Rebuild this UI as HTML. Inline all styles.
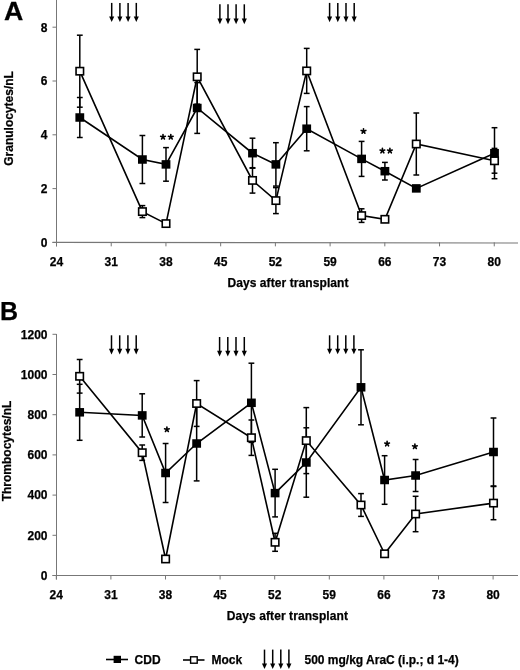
<!DOCTYPE html>
<html><head><meta charset="utf-8"><style>
html,body{margin:0;padding:0;background:#fff;width:520px;height:670px;overflow:hidden;}
svg{display:block;filter:grayscale(1);}
text{font-family:"Liberation Sans",sans-serif;font-weight:bold;fill:#000;stroke:#000;stroke-width:0.25px;}
</style></head><body>
<svg width="520" height="670" viewBox="0 0 520 670">
<text transform="translate(4.1,20) scale(1.07,1)" font-size="25">A</text>
<text transform="translate(12.6,118.4) rotate(-90)" font-size="12" text-anchor="middle">Granulocytes/nL</text>
<line x1="56.5" y1="0" x2="56.5" y2="246.35" stroke="#777" stroke-width="1"/>
<line x1="52.5" y1="242.35" x2="518" y2="242.95" stroke="#777" stroke-width="1.1"/>
<line x1="52.5" y1="242.5" x2="56.5" y2="242.5" stroke="#777" stroke-width="1"/>
<line x1="52.5" y1="188.6" x2="56.5" y2="188.6" stroke="#777" stroke-width="1"/>
<line x1="52.5" y1="134.8" x2="56.5" y2="134.8" stroke="#777" stroke-width="1"/>
<line x1="52.5" y1="81.0" x2="56.5" y2="81.0" stroke="#777" stroke-width="1"/>
<line x1="52.5" y1="27.2" x2="56.5" y2="27.2" stroke="#777" stroke-width="1"/>
<line x1="56.50" y1="242.35" x2="56.50" y2="246.35" stroke="#777" stroke-width="1"/>
<text x="56.50" y="265.5" font-size="12" text-anchor="middle">24</text>
<line x1="111.22" y1="242.35" x2="111.22" y2="246.35" stroke="#777" stroke-width="1"/>
<text x="111.22" y="265.5" font-size="12" text-anchor="middle">31</text>
<line x1="165.94" y1="242.35" x2="165.94" y2="246.35" stroke="#777" stroke-width="1"/>
<text x="165.94" y="265.5" font-size="12" text-anchor="middle">38</text>
<line x1="220.66" y1="242.35" x2="220.66" y2="246.35" stroke="#777" stroke-width="1"/>
<text x="220.66" y="265.5" font-size="12" text-anchor="middle">45</text>
<line x1="275.38" y1="242.35" x2="275.38" y2="246.35" stroke="#777" stroke-width="1"/>
<text x="275.38" y="265.5" font-size="12" text-anchor="middle">52</text>
<line x1="330.10" y1="242.35" x2="330.10" y2="246.35" stroke="#777" stroke-width="1"/>
<text x="330.10" y="265.5" font-size="12" text-anchor="middle">59</text>
<line x1="384.82" y1="242.35" x2="384.82" y2="246.35" stroke="#777" stroke-width="1"/>
<text x="384.82" y="265.5" font-size="12" text-anchor="middle">66</text>
<line x1="439.54" y1="242.35" x2="439.54" y2="246.35" stroke="#777" stroke-width="1"/>
<text x="439.54" y="265.5" font-size="12" text-anchor="middle">73</text>
<line x1="494.26" y1="242.35" x2="494.26" y2="246.35" stroke="#777" stroke-width="1"/>
<text x="494.26" y="265.5" font-size="12" text-anchor="middle">80</text>
<text x="47.5" y="246.80" font-size="12" text-anchor="end">0</text>
<text x="47.5" y="192.90" font-size="12" text-anchor="end">2</text>
<text x="47.5" y="139.10" font-size="12" text-anchor="end">4</text>
<text x="47.5" y="85.30" font-size="12" text-anchor="end">6</text>
<text x="47.5" y="31.50" font-size="12" text-anchor="end">8</text>
<text x="288.0" y="286.5" font-size="12" text-anchor="middle" letter-spacing="0.085">Days after transplant</text>
<line x1="111.7" y1="2.9" x2="111.7" y2="18.1" stroke="#000" stroke-width="1.5"/>
<path d="M109.15,16.5 L114.25,16.5 L111.7,22.1 Z" fill="#000"/>
<line x1="119.9" y1="2.9" x2="119.9" y2="18.1" stroke="#000" stroke-width="1.5"/>
<path d="M117.35000000000001,16.5 L122.45,16.5 L119.9,22.1 Z" fill="#000"/>
<line x1="128.1" y1="2.9" x2="128.1" y2="18.1" stroke="#000" stroke-width="1.5"/>
<path d="M125.55,16.5 L130.65,16.5 L128.1,22.1 Z" fill="#000"/>
<line x1="136.3" y1="2.9" x2="136.3" y2="18.1" stroke="#000" stroke-width="1.5"/>
<path d="M133.75,16.5 L138.85000000000002,16.5 L136.3,22.1 Z" fill="#000"/>
<line x1="219.9" y1="4.3" x2="219.9" y2="20.200000000000003" stroke="#000" stroke-width="1.5"/>
<path d="M217.35,18.6 L222.45000000000002,18.6 L219.9,24.200000000000003 Z" fill="#000"/>
<line x1="228.0" y1="4.3" x2="228.0" y2="20.200000000000003" stroke="#000" stroke-width="1.5"/>
<path d="M225.45,18.6 L230.55,18.6 L228.0,24.200000000000003 Z" fill="#000"/>
<line x1="236.1" y1="4.3" x2="236.1" y2="20.200000000000003" stroke="#000" stroke-width="1.5"/>
<path d="M233.54999999999998,18.6 L238.65,18.6 L236.1,24.200000000000003 Z" fill="#000"/>
<line x1="244.3" y1="4.3" x2="244.3" y2="20.200000000000003" stroke="#000" stroke-width="1.5"/>
<path d="M241.75,18.6 L246.85000000000002,18.6 L244.3,24.200000000000003 Z" fill="#000"/>
<line x1="329.6" y1="2.9" x2="329.6" y2="18.200000000000003" stroke="#000" stroke-width="1.5"/>
<path d="M327.05,16.6 L332.15000000000003,16.6 L329.6,22.200000000000003 Z" fill="#000"/>
<line x1="337.8" y1="2.9" x2="337.8" y2="18.200000000000003" stroke="#000" stroke-width="1.5"/>
<path d="M335.25,16.6 L340.35,16.6 L337.8,22.200000000000003 Z" fill="#000"/>
<line x1="346.0" y1="2.9" x2="346.0" y2="18.200000000000003" stroke="#000" stroke-width="1.5"/>
<path d="M343.45,16.6 L348.55,16.6 L346.0,22.200000000000003 Z" fill="#000"/>
<line x1="354.2" y1="2.9" x2="354.2" y2="18.200000000000003" stroke="#000" stroke-width="1.5"/>
<path d="M351.65,16.6 L356.75,16.6 L354.2,22.200000000000003 Z" fill="#000"/>
<line x1="79.8" y1="97.50" x2="79.8" y2="137.50" stroke="#000" stroke-width="1.5"/>
<line x1="76.89999999999999" y1="97.50" x2="82.7" y2="97.50" stroke="#000" stroke-width="1.5"/>
<line x1="76.89999999999999" y1="137.50" x2="82.7" y2="137.50" stroke="#000" stroke-width="1.5"/>
<line x1="142.4" y1="135.50" x2="142.4" y2="183.50" stroke="#000" stroke-width="1.5"/>
<line x1="139.5" y1="135.50" x2="145.3" y2="135.50" stroke="#000" stroke-width="1.5"/>
<line x1="139.5" y1="183.50" x2="145.3" y2="183.50" stroke="#000" stroke-width="1.5"/>
<line x1="166.0" y1="147.60" x2="166.0" y2="181.20" stroke="#000" stroke-width="1.5"/>
<line x1="163.1" y1="147.60" x2="168.9" y2="147.60" stroke="#000" stroke-width="1.5"/>
<line x1="163.1" y1="181.20" x2="168.9" y2="181.20" stroke="#000" stroke-width="1.5"/>
<line x1="197.2" y1="82.60" x2="197.2" y2="133.40" stroke="#000" stroke-width="1.5"/>
<line x1="194.29999999999998" y1="82.60" x2="200.1" y2="82.60" stroke="#000" stroke-width="1.5"/>
<line x1="194.29999999999998" y1="133.40" x2="200.1" y2="133.40" stroke="#000" stroke-width="1.5"/>
<line x1="252.5" y1="138.20" x2="252.5" y2="168.20" stroke="#000" stroke-width="1.5"/>
<line x1="249.6" y1="138.20" x2="255.4" y2="138.20" stroke="#000" stroke-width="1.5"/>
<line x1="249.6" y1="168.20" x2="255.4" y2="168.20" stroke="#000" stroke-width="1.5"/>
<line x1="275.9" y1="142.70" x2="275.9" y2="186.10" stroke="#000" stroke-width="1.5"/>
<line x1="273.0" y1="142.70" x2="278.79999999999995" y2="142.70" stroke="#000" stroke-width="1.5"/>
<line x1="273.0" y1="186.10" x2="278.79999999999995" y2="186.10" stroke="#000" stroke-width="1.5"/>
<line x1="306.7" y1="106.60" x2="306.7" y2="150.80" stroke="#000" stroke-width="1.5"/>
<line x1="303.8" y1="106.60" x2="309.59999999999997" y2="106.60" stroke="#000" stroke-width="1.5"/>
<line x1="303.8" y1="150.80" x2="309.59999999999997" y2="150.80" stroke="#000" stroke-width="1.5"/>
<line x1="361.6" y1="141.40" x2="361.6" y2="176.40" stroke="#000" stroke-width="1.5"/>
<line x1="358.70000000000005" y1="141.40" x2="364.5" y2="141.40" stroke="#000" stroke-width="1.5"/>
<line x1="358.70000000000005" y1="176.40" x2="364.5" y2="176.40" stroke="#000" stroke-width="1.5"/>
<line x1="384.9" y1="162.40" x2="384.9" y2="180.00" stroke="#000" stroke-width="1.5"/>
<line x1="382.0" y1="162.40" x2="387.79999999999995" y2="162.40" stroke="#000" stroke-width="1.5"/>
<line x1="382.0" y1="180.00" x2="387.79999999999995" y2="180.00" stroke="#000" stroke-width="1.5"/>
<line x1="494.5" y1="127.70" x2="494.5" y2="178.70" stroke="#000" stroke-width="1.5"/>
<line x1="491.6" y1="127.70" x2="497.4" y2="127.70" stroke="#000" stroke-width="1.5"/>
<line x1="491.6" y1="178.70" x2="497.4" y2="178.70" stroke="#000" stroke-width="1.5"/>
<polyline points="79.80,117.50 142.40,159.50 166.00,164.40 197.20,108.00 252.50,153.20 275.90,164.40 306.70,128.70 361.60,158.90 384.90,171.20 416.30,188.40 494.50,153.20" fill="none" stroke="#000" stroke-width="1.6" stroke-linejoin="miter"/>
<rect x="75.40" y="113.25" width="8.8" height="8.5" fill="#000"/>
<rect x="138.00" y="155.25" width="8.8" height="8.5" fill="#000"/>
<rect x="161.60" y="160.15" width="8.8" height="8.5" fill="#000"/>
<rect x="192.80" y="103.75" width="8.8" height="8.5" fill="#000"/>
<rect x="248.10" y="148.95" width="8.8" height="8.5" fill="#000"/>
<rect x="271.50" y="160.15" width="8.8" height="8.5" fill="#000"/>
<rect x="302.30" y="124.45" width="8.8" height="8.5" fill="#000"/>
<rect x="357.20" y="154.65" width="8.8" height="8.5" fill="#000"/>
<rect x="380.50" y="166.95" width="8.8" height="8.5" fill="#000"/>
<rect x="411.90" y="184.15" width="8.8" height="8.5" fill="#000"/>
<rect x="490.10" y="148.95" width="8.8" height="8.5" fill="#000"/>
<line x1="79.8" y1="35.20" x2="79.8" y2="107.20" stroke="#000" stroke-width="1.5"/>
<line x1="76.89999999999999" y1="35.20" x2="82.7" y2="35.20" stroke="#000" stroke-width="1.5"/>
<line x1="76.89999999999999" y1="107.20" x2="82.7" y2="107.20" stroke="#000" stroke-width="1.5"/>
<line x1="142.4" y1="205.60" x2="142.4" y2="217.60" stroke="#000" stroke-width="1.5"/>
<line x1="139.5" y1="205.60" x2="145.3" y2="205.60" stroke="#000" stroke-width="1.5"/>
<line x1="139.5" y1="217.60" x2="145.3" y2="217.60" stroke="#000" stroke-width="1.5"/>
<line x1="197.2" y1="49.40" x2="197.2" y2="104.20" stroke="#000" stroke-width="1.5"/>
<line x1="194.29999999999998" y1="49.40" x2="200.1" y2="49.40" stroke="#000" stroke-width="1.5"/>
<line x1="194.29999999999998" y1="104.20" x2="200.1" y2="104.20" stroke="#000" stroke-width="1.5"/>
<line x1="252.5" y1="167.70" x2="252.5" y2="193.10" stroke="#000" stroke-width="1.5"/>
<line x1="249.6" y1="167.70" x2="255.4" y2="167.70" stroke="#000" stroke-width="1.5"/>
<line x1="249.6" y1="193.10" x2="255.4" y2="193.10" stroke="#000" stroke-width="1.5"/>
<line x1="275.9" y1="187.60" x2="275.9" y2="213.60" stroke="#000" stroke-width="1.5"/>
<line x1="273.0" y1="187.60" x2="278.79999999999995" y2="187.60" stroke="#000" stroke-width="1.5"/>
<line x1="273.0" y1="213.60" x2="278.79999999999995" y2="213.60" stroke="#000" stroke-width="1.5"/>
<line x1="306.7" y1="48.40" x2="306.7" y2="93.40" stroke="#000" stroke-width="1.5"/>
<line x1="303.8" y1="48.40" x2="309.59999999999997" y2="48.40" stroke="#000" stroke-width="1.5"/>
<line x1="303.8" y1="93.40" x2="309.59999999999997" y2="93.40" stroke="#000" stroke-width="1.5"/>
<line x1="361.6" y1="208.80" x2="361.6" y2="222.40" stroke="#000" stroke-width="1.5"/>
<line x1="358.70000000000005" y1="208.80" x2="364.5" y2="208.80" stroke="#000" stroke-width="1.5"/>
<line x1="358.70000000000005" y1="222.40" x2="364.5" y2="222.40" stroke="#000" stroke-width="1.5"/>
<line x1="416.3" y1="113.00" x2="416.3" y2="175.00" stroke="#000" stroke-width="1.5"/>
<line x1="413.40000000000003" y1="113.00" x2="419.2" y2="113.00" stroke="#000" stroke-width="1.5"/>
<line x1="413.40000000000003" y1="175.00" x2="419.2" y2="175.00" stroke="#000" stroke-width="1.5"/>
<line x1="494.5" y1="148.40" x2="494.5" y2="173.20" stroke="#000" stroke-width="1.5"/>
<line x1="491.6" y1="148.40" x2="497.4" y2="148.40" stroke="#000" stroke-width="1.5"/>
<line x1="491.6" y1="173.20" x2="497.4" y2="173.20" stroke="#000" stroke-width="1.5"/>
<polyline points="79.80,71.20 142.40,211.60 166.00,223.60 197.20,76.80 252.50,180.40 275.90,200.60 306.70,70.90 361.60,215.60 384.90,219.30 416.30,144.00 494.50,160.80" fill="none" stroke="#000" stroke-width="1.6" stroke-linejoin="miter"/>
<rect x="76.05" y="67.55" width="7.50" height="7.30" fill="#fff" stroke="#000" stroke-width="1.6"/>
<rect x="138.65" y="207.95" width="7.50" height="7.30" fill="#fff" stroke="#000" stroke-width="1.6"/>
<rect x="162.25" y="219.95" width="7.50" height="7.30" fill="#fff" stroke="#000" stroke-width="1.6"/>
<rect x="193.45" y="73.15" width="7.50" height="7.30" fill="#fff" stroke="#000" stroke-width="1.6"/>
<rect x="248.75" y="176.75" width="7.50" height="7.30" fill="#fff" stroke="#000" stroke-width="1.6"/>
<rect x="272.15" y="196.95" width="7.50" height="7.30" fill="#fff" stroke="#000" stroke-width="1.6"/>
<rect x="302.95" y="67.25" width="7.50" height="7.30" fill="#fff" stroke="#000" stroke-width="1.6"/>
<rect x="357.85" y="211.95" width="7.50" height="7.30" fill="#fff" stroke="#000" stroke-width="1.6"/>
<rect x="381.15" y="215.65" width="7.50" height="7.30" fill="#fff" stroke="#000" stroke-width="1.6"/>
<rect x="412.55" y="140.35" width="7.50" height="7.30" fill="#fff" stroke="#000" stroke-width="1.6"/>
<rect x="490.75" y="157.15" width="7.50" height="7.30" fill="#fff" stroke="#000" stroke-width="1.6"/>
<path d="M163.00,137.00L163.00,134.55M163.00,137.00L165.33,136.24M163.00,137.00L164.44,138.98M163.00,137.00L161.56,138.98M163.00,137.00L160.67,136.24" stroke="#000" stroke-width="1.6" stroke-linecap="round" fill="none"/>
<path d="M170.80,137.00L170.80,134.55M170.80,137.00L173.13,136.24M170.80,137.00L172.24,138.98M170.80,137.00L169.36,138.98M170.80,137.00L168.47,136.24" stroke="#000" stroke-width="1.6" stroke-linecap="round" fill="none"/>
<path d="M363.50,131.20L363.50,128.75M363.50,131.20L365.83,130.44M363.50,131.20L364.94,133.18M363.50,131.20L362.06,133.18M363.50,131.20L361.17,130.44" stroke="#000" stroke-width="1.6" stroke-linecap="round" fill="none"/>
<path d="M382.40,150.80L382.40,148.35M382.40,150.80L384.73,150.04M382.40,150.80L383.84,152.78M382.40,150.80L380.96,152.78M382.40,150.80L380.07,150.04" stroke="#000" stroke-width="1.6" stroke-linecap="round" fill="none"/>
<path d="M389.90,150.80L389.90,148.35M389.90,150.80L392.23,150.04M389.90,150.80L391.34,152.78M389.90,150.80L388.46,152.78M389.90,150.80L387.57,150.04" stroke="#000" stroke-width="1.6" stroke-linecap="round" fill="none"/>
<text x="0" y="319.5" font-size="25">B</text>
<text transform="translate(11.2,451) rotate(-90)" font-size="12" text-anchor="middle">Thrombocytes/nL</text>
<line x1="56.5" y1="334" x2="56.5" y2="579.5" stroke="#777" stroke-width="1"/>
<line x1="52.5" y1="575.5" x2="518" y2="575.5" stroke="#777" stroke-width="1"/>
<line x1="52.5" y1="575.5" x2="56.5" y2="575.5" stroke="#777" stroke-width="1"/>
<line x1="52.5" y1="535.3" x2="56.5" y2="535.3" stroke="#777" stroke-width="1"/>
<line x1="52.5" y1="495.1" x2="56.5" y2="495.1" stroke="#777" stroke-width="1"/>
<line x1="52.5" y1="454.9" x2="56.5" y2="454.9" stroke="#777" stroke-width="1"/>
<line x1="52.5" y1="414.7" x2="56.5" y2="414.7" stroke="#777" stroke-width="1"/>
<line x1="52.5" y1="374.5" x2="56.5" y2="374.5" stroke="#777" stroke-width="1"/>
<line x1="52.5" y1="334.3" x2="56.5" y2="334.3" stroke="#777" stroke-width="1"/>
<line x1="56.30" y1="575.5" x2="56.30" y2="579.5" stroke="#777" stroke-width="1"/>
<text x="56.30" y="598.5" font-size="12" text-anchor="middle">24</text>
<line x1="110.90" y1="575.5" x2="110.90" y2="579.5" stroke="#777" stroke-width="1"/>
<text x="110.90" y="598.5" font-size="12" text-anchor="middle">31</text>
<line x1="165.50" y1="575.5" x2="165.50" y2="579.5" stroke="#777" stroke-width="1"/>
<text x="165.50" y="598.5" font-size="12" text-anchor="middle">38</text>
<line x1="220.10" y1="575.5" x2="220.10" y2="579.5" stroke="#777" stroke-width="1"/>
<text x="220.10" y="598.5" font-size="12" text-anchor="middle">45</text>
<line x1="274.70" y1="575.5" x2="274.70" y2="579.5" stroke="#777" stroke-width="1"/>
<text x="274.70" y="598.5" font-size="12" text-anchor="middle">52</text>
<line x1="329.30" y1="575.5" x2="329.30" y2="579.5" stroke="#777" stroke-width="1"/>
<text x="329.30" y="598.5" font-size="12" text-anchor="middle">59</text>
<line x1="383.90" y1="575.5" x2="383.90" y2="579.5" stroke="#777" stroke-width="1"/>
<text x="383.90" y="598.5" font-size="12" text-anchor="middle">66</text>
<line x1="438.50" y1="575.5" x2="438.50" y2="579.5" stroke="#777" stroke-width="1"/>
<text x="438.50" y="598.5" font-size="12" text-anchor="middle">73</text>
<line x1="493.10" y1="575.5" x2="493.10" y2="579.5" stroke="#777" stroke-width="1"/>
<text x="493.10" y="598.5" font-size="12" text-anchor="middle">80</text>
<text x="47.5" y="579.80" font-size="12" text-anchor="end">0</text>
<text x="47.5" y="539.60" font-size="12" text-anchor="end">200</text>
<text x="47.5" y="499.40" font-size="12" text-anchor="end">400</text>
<text x="47.5" y="459.20" font-size="12" text-anchor="end">600</text>
<text x="47.5" y="419.00" font-size="12" text-anchor="end">800</text>
<text x="47.5" y="378.80" font-size="12" text-anchor="end">1000</text>
<text x="47.5" y="338.60" font-size="12" text-anchor="end">1200</text>
<text x="287.4" y="620.0" font-size="12" text-anchor="middle" letter-spacing="0.085">Days after transplant</text>
<line x1="111.5" y1="335.3" x2="111.5" y2="350.40000000000003" stroke="#000" stroke-width="1.5"/>
<path d="M108.95,348.8 L114.05,348.8 L111.5,354.40000000000003 Z" fill="#000"/>
<line x1="119.7" y1="335.3" x2="119.7" y2="350.40000000000003" stroke="#000" stroke-width="1.5"/>
<path d="M117.15,348.8 L122.25,348.8 L119.7,354.40000000000003 Z" fill="#000"/>
<line x1="127.9" y1="335.3" x2="127.9" y2="350.40000000000003" stroke="#000" stroke-width="1.5"/>
<path d="M125.35000000000001,348.8 L130.45000000000002,348.8 L127.9,354.40000000000003 Z" fill="#000"/>
<line x1="136.2" y1="335.3" x2="136.2" y2="350.40000000000003" stroke="#000" stroke-width="1.5"/>
<path d="M133.64999999999998,348.8 L138.75,348.8 L136.2,354.40000000000003 Z" fill="#000"/>
<line x1="219.6" y1="337.0" x2="219.6" y2="352.40000000000003" stroke="#000" stroke-width="1.5"/>
<path d="M217.04999999999998,350.8 L222.15,350.8 L219.6,356.40000000000003 Z" fill="#000"/>
<line x1="227.8" y1="337.0" x2="227.8" y2="352.40000000000003" stroke="#000" stroke-width="1.5"/>
<path d="M225.25,350.8 L230.35000000000002,350.8 L227.8,356.40000000000003 Z" fill="#000"/>
<line x1="236.0" y1="337.0" x2="236.0" y2="352.40000000000003" stroke="#000" stroke-width="1.5"/>
<path d="M233.45,350.8 L238.55,350.8 L236.0,356.40000000000003 Z" fill="#000"/>
<line x1="244.3" y1="337.0" x2="244.3" y2="352.40000000000003" stroke="#000" stroke-width="1.5"/>
<path d="M241.75,350.8 L246.85000000000002,350.8 L244.3,356.40000000000003 Z" fill="#000"/>
<line x1="329.6" y1="335.3" x2="329.6" y2="350.3" stroke="#000" stroke-width="1.5"/>
<path d="M327.05,348.7 L332.15000000000003,348.7 L329.6,354.3 Z" fill="#000"/>
<line x1="337.7" y1="335.3" x2="337.7" y2="350.3" stroke="#000" stroke-width="1.5"/>
<path d="M335.15,348.7 L340.25,348.7 L337.7,354.3 Z" fill="#000"/>
<line x1="345.8" y1="335.3" x2="345.8" y2="350.3" stroke="#000" stroke-width="1.5"/>
<path d="M343.25,348.7 L348.35,348.7 L345.8,354.3 Z" fill="#000"/>
<line x1="353.9" y1="335.3" x2="353.9" y2="350.3" stroke="#000" stroke-width="1.5"/>
<path d="M351.34999999999997,348.7 L356.45,348.7 L353.9,354.3 Z" fill="#000"/>
<line x1="79.65" y1="384.30" x2="79.65" y2="440.30" stroke="#000" stroke-width="1.5"/>
<line x1="76.75" y1="384.30" x2="82.55000000000001" y2="384.30" stroke="#000" stroke-width="1.5"/>
<line x1="76.75" y1="440.30" x2="82.55000000000001" y2="440.30" stroke="#000" stroke-width="1.5"/>
<line x1="142.2" y1="393.80" x2="142.2" y2="437.00" stroke="#000" stroke-width="1.5"/>
<line x1="139.29999999999998" y1="393.80" x2="145.1" y2="393.80" stroke="#000" stroke-width="1.5"/>
<line x1="139.29999999999998" y1="437.00" x2="145.1" y2="437.00" stroke="#000" stroke-width="1.5"/>
<line x1="165.6" y1="443.50" x2="165.6" y2="502.50" stroke="#000" stroke-width="1.5"/>
<line x1="162.7" y1="443.50" x2="168.5" y2="443.50" stroke="#000" stroke-width="1.5"/>
<line x1="162.7" y1="502.50" x2="168.5" y2="502.50" stroke="#000" stroke-width="1.5"/>
<line x1="196.65" y1="406.10" x2="196.65" y2="480.90" stroke="#000" stroke-width="1.5"/>
<line x1="193.75" y1="406.10" x2="199.55" y2="406.10" stroke="#000" stroke-width="1.5"/>
<line x1="193.75" y1="480.90" x2="199.55" y2="480.90" stroke="#000" stroke-width="1.5"/>
<line x1="251.4" y1="363.20" x2="251.4" y2="442.40" stroke="#000" stroke-width="1.5"/>
<line x1="248.5" y1="363.20" x2="254.3" y2="363.20" stroke="#000" stroke-width="1.5"/>
<line x1="248.5" y1="442.40" x2="254.3" y2="442.40" stroke="#000" stroke-width="1.5"/>
<line x1="275.1" y1="469.30" x2="275.1" y2="516.90" stroke="#000" stroke-width="1.5"/>
<line x1="272.20000000000005" y1="469.30" x2="278.0" y2="469.30" stroke="#000" stroke-width="1.5"/>
<line x1="272.20000000000005" y1="516.90" x2="278.0" y2="516.90" stroke="#000" stroke-width="1.5"/>
<line x1="306.3" y1="427.80" x2="306.3" y2="497.20" stroke="#000" stroke-width="1.5"/>
<line x1="303.40000000000003" y1="427.80" x2="309.2" y2="427.80" stroke="#000" stroke-width="1.5"/>
<line x1="303.40000000000003" y1="497.20" x2="309.2" y2="497.20" stroke="#000" stroke-width="1.5"/>
<line x1="361.0" y1="349.80" x2="361.0" y2="424.80" stroke="#000" stroke-width="1.5"/>
<line x1="358.1" y1="349.80" x2="363.9" y2="349.80" stroke="#000" stroke-width="1.5"/>
<line x1="358.1" y1="424.80" x2="363.9" y2="424.80" stroke="#000" stroke-width="1.5"/>
<line x1="384.6" y1="455.70" x2="384.6" y2="504.30" stroke="#000" stroke-width="1.5"/>
<line x1="381.70000000000005" y1="455.70" x2="387.5" y2="455.70" stroke="#000" stroke-width="1.5"/>
<line x1="381.70000000000005" y1="504.30" x2="387.5" y2="504.30" stroke="#000" stroke-width="1.5"/>
<line x1="415.6" y1="459.50" x2="415.6" y2="491.50" stroke="#000" stroke-width="1.5"/>
<line x1="412.70000000000005" y1="459.50" x2="418.5" y2="459.50" stroke="#000" stroke-width="1.5"/>
<line x1="412.70000000000005" y1="491.50" x2="418.5" y2="491.50" stroke="#000" stroke-width="1.5"/>
<line x1="493.5" y1="418.00" x2="493.5" y2="486.00" stroke="#000" stroke-width="1.5"/>
<line x1="490.6" y1="418.00" x2="496.4" y2="418.00" stroke="#000" stroke-width="1.5"/>
<line x1="490.6" y1="486.00" x2="496.4" y2="486.00" stroke="#000" stroke-width="1.5"/>
<polyline points="79.65,412.30 142.20,415.40 165.60,473.00 196.65,443.50 251.40,402.80 275.10,493.10 306.30,462.50 361.00,387.30 384.60,480.00 415.60,475.50 493.50,452.00" fill="none" stroke="#000" stroke-width="1.6" stroke-linejoin="miter"/>
<rect x="75.25" y="408.05" width="8.8" height="8.5" fill="#000"/>
<rect x="137.80" y="411.15" width="8.8" height="8.5" fill="#000"/>
<rect x="161.20" y="468.75" width="8.8" height="8.5" fill="#000"/>
<rect x="192.25" y="439.25" width="8.8" height="8.5" fill="#000"/>
<rect x="247.00" y="398.55" width="8.8" height="8.5" fill="#000"/>
<rect x="270.70" y="488.85" width="8.8" height="8.5" fill="#000"/>
<rect x="301.90" y="458.25" width="8.8" height="8.5" fill="#000"/>
<rect x="356.60" y="383.05" width="8.8" height="8.5" fill="#000"/>
<rect x="380.20" y="475.75" width="8.8" height="8.5" fill="#000"/>
<rect x="411.20" y="471.25" width="8.8" height="8.5" fill="#000"/>
<rect x="489.10" y="447.75" width="8.8" height="8.5" fill="#000"/>
<line x1="79.65" y1="359.50" x2="79.65" y2="393.10" stroke="#000" stroke-width="1.5"/>
<line x1="76.75" y1="359.50" x2="82.55000000000001" y2="359.50" stroke="#000" stroke-width="1.5"/>
<line x1="76.75" y1="393.10" x2="82.55000000000001" y2="393.10" stroke="#000" stroke-width="1.5"/>
<line x1="142.2" y1="445.00" x2="142.2" y2="460.40" stroke="#000" stroke-width="1.5"/>
<line x1="139.29999999999998" y1="445.00" x2="145.1" y2="445.00" stroke="#000" stroke-width="1.5"/>
<line x1="139.29999999999998" y1="460.40" x2="145.1" y2="460.40" stroke="#000" stroke-width="1.5"/>
<line x1="196.65" y1="380.60" x2="196.65" y2="426.40" stroke="#000" stroke-width="1.5"/>
<line x1="193.75" y1="380.60" x2="199.55" y2="380.60" stroke="#000" stroke-width="1.5"/>
<line x1="193.75" y1="426.40" x2="199.55" y2="426.40" stroke="#000" stroke-width="1.5"/>
<line x1="251.4" y1="420.00" x2="251.4" y2="455.40" stroke="#000" stroke-width="1.5"/>
<line x1="248.5" y1="420.00" x2="254.3" y2="420.00" stroke="#000" stroke-width="1.5"/>
<line x1="248.5" y1="455.40" x2="254.3" y2="455.40" stroke="#000" stroke-width="1.5"/>
<line x1="275.1" y1="533.30" x2="275.1" y2="551.30" stroke="#000" stroke-width="1.5"/>
<line x1="272.20000000000005" y1="533.30" x2="278.0" y2="533.30" stroke="#000" stroke-width="1.5"/>
<line x1="272.20000000000005" y1="551.30" x2="278.0" y2="551.30" stroke="#000" stroke-width="1.5"/>
<line x1="306.3" y1="407.60" x2="306.3" y2="473.60" stroke="#000" stroke-width="1.5"/>
<line x1="303.40000000000003" y1="407.60" x2="309.2" y2="407.60" stroke="#000" stroke-width="1.5"/>
<line x1="303.40000000000003" y1="473.60" x2="309.2" y2="473.60" stroke="#000" stroke-width="1.5"/>
<line x1="361.0" y1="493.60" x2="361.0" y2="516.40" stroke="#000" stroke-width="1.5"/>
<line x1="358.1" y1="493.60" x2="363.9" y2="493.60" stroke="#000" stroke-width="1.5"/>
<line x1="358.1" y1="516.40" x2="363.9" y2="516.40" stroke="#000" stroke-width="1.5"/>
<line x1="415.6" y1="496.30" x2="415.6" y2="531.70" stroke="#000" stroke-width="1.5"/>
<line x1="412.70000000000005" y1="496.30" x2="418.5" y2="496.30" stroke="#000" stroke-width="1.5"/>
<line x1="412.70000000000005" y1="531.70" x2="418.5" y2="531.70" stroke="#000" stroke-width="1.5"/>
<line x1="493.5" y1="486.50" x2="493.5" y2="519.70" stroke="#000" stroke-width="1.5"/>
<line x1="490.6" y1="486.50" x2="496.4" y2="486.50" stroke="#000" stroke-width="1.5"/>
<line x1="490.6" y1="519.70" x2="496.4" y2="519.70" stroke="#000" stroke-width="1.5"/>
<polyline points="79.65,376.30 142.20,452.70 165.60,559.00 196.65,403.50 251.40,437.70 275.10,542.30 306.30,440.60 361.00,505.00 384.60,553.80 415.60,514.00 493.50,503.10" fill="none" stroke="#000" stroke-width="1.6" stroke-linejoin="miter"/>
<rect x="75.90" y="372.65" width="7.50" height="7.30" fill="#fff" stroke="#000" stroke-width="1.6"/>
<rect x="138.45" y="449.05" width="7.50" height="7.30" fill="#fff" stroke="#000" stroke-width="1.6"/>
<rect x="161.85" y="555.35" width="7.50" height="7.30" fill="#fff" stroke="#000" stroke-width="1.6"/>
<rect x="192.90" y="399.85" width="7.50" height="7.30" fill="#fff" stroke="#000" stroke-width="1.6"/>
<rect x="247.65" y="434.05" width="7.50" height="7.30" fill="#fff" stroke="#000" stroke-width="1.6"/>
<rect x="271.35" y="538.65" width="7.50" height="7.30" fill="#fff" stroke="#000" stroke-width="1.6"/>
<rect x="302.55" y="436.95" width="7.50" height="7.30" fill="#fff" stroke="#000" stroke-width="1.6"/>
<rect x="357.25" y="501.35" width="7.50" height="7.30" fill="#fff" stroke="#000" stroke-width="1.6"/>
<rect x="380.85" y="550.15" width="7.50" height="7.30" fill="#fff" stroke="#000" stroke-width="1.6"/>
<rect x="411.85" y="510.35" width="7.50" height="7.30" fill="#fff" stroke="#000" stroke-width="1.6"/>
<rect x="489.75" y="499.45" width="7.50" height="7.30" fill="#fff" stroke="#000" stroke-width="1.6"/>
<path d="M166.90,429.50L166.90,427.05M166.90,429.50L169.23,428.74M166.90,429.50L168.34,431.48M166.90,429.50L165.46,431.48M166.90,429.50L164.57,428.74" stroke="#000" stroke-width="1.6" stroke-linecap="round" fill="none"/>
<path d="M387.10,443.80L387.10,441.35M387.10,443.80L389.43,443.04M387.10,443.80L388.54,445.78M387.10,443.80L385.66,445.78M387.10,443.80L384.77,443.04" stroke="#000" stroke-width="1.6" stroke-linecap="round" fill="none"/>
<path d="M414.90,446.50L414.90,444.05M414.90,446.50L417.23,445.74M414.90,446.50L416.34,448.48M414.90,446.50L413.46,448.48M414.90,446.50L412.57,445.74" stroke="#000" stroke-width="1.6" stroke-linecap="round" fill="none"/>
<line x1="106" y1="659.5" x2="128" y2="659.5" stroke="#000" stroke-width="1.6"/>
<rect x="113.6" y="655.8" width="7.4" height="7.2" fill="#000"/>
<text x="134.6" y="664" font-size="12">CDD</text>
<line x1="183" y1="660" x2="204.5" y2="660" stroke="#000" stroke-width="1.6"/>
<rect x="190.6" y="656.8" width="6.6" height="6.4" fill="#fff" stroke="#000" stroke-width="1.4"/>
<text x="211.5" y="664" font-size="12">Mock</text>
<line x1="264.5" y1="649.6" x2="264.5" y2="665.1" stroke="#000" stroke-width="1.5"/>
<path d="M261.95,663.5 L267.05,663.5 L264.5,669.1 Z" fill="#000"/>
<line x1="272.7" y1="649.6" x2="272.7" y2="665.1" stroke="#000" stroke-width="1.5"/>
<path d="M270.15,663.5 L275.25,663.5 L272.7,669.1 Z" fill="#000"/>
<line x1="280.8" y1="649.6" x2="280.8" y2="665.1" stroke="#000" stroke-width="1.5"/>
<path d="M278.25,663.5 L283.35,663.5 L280.8,669.1 Z" fill="#000"/>
<line x1="288.9" y1="649.6" x2="288.9" y2="665.1" stroke="#000" stroke-width="1.5"/>
<path d="M286.34999999999997,663.5 L291.45,663.5 L288.9,669.1 Z" fill="#000"/>
<text x="304.5" y="664" font-size="12">500 mg/kg AraC (i.p.; d 1-4)</text>
</svg>
</body></html>
